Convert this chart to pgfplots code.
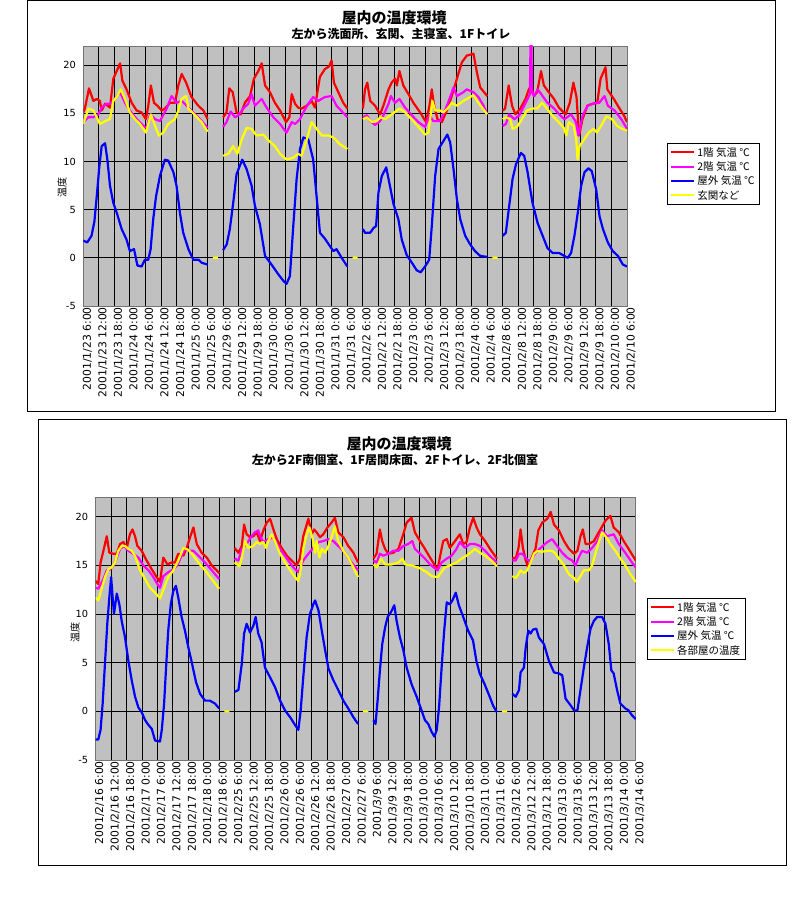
\documentclass[border=0pt]{standalone}
\usepackage{fontspec}
\setmainfont{Noto Sans CJK JP}
\newfontfamily\tickfont{DejaVu Sans}
\usepackage{pgfplots}
\pgfplotsset{compat=1.18}
\definecolor{plotbg}{RGB}{192,192,192}
\definecolor{xred}{RGB}{255,0,0}
\definecolor{xmag}{RGB}{255,0,255}
\definecolor{xblue}{RGB}{0,0,255}
\definecolor{xyel}{RGB}{255,255,0}
\pgfplotsset{
  tempaxis/.style={
    scale only axis,
    xmin=0, xmax=210, ymin=-5, ymax=22,
    xtick={0,6,...,210},
    ytick={-5,0,5,10,15,20},
    axis background/.style={fill=plotbg},
    grid=major,
    major grid style={black, line width=0.9pt},
    axis line style={draw=black!55, line width=0.9pt},
    major tick length=0pt,
    tick style={draw=none},
    xticklabel style={rotate=90, anchor=east, font=\tickfont\fontsize{10.8}{11}\selectfont, inner sep=1pt, yshift=-4pt},
    yticklabel style={font=\tickfont\fontsize{9.8}{10}\selectfont, xshift=-4pt},
    /pgf/number format/assume math mode=true,
    unbounded coords=jump,
    legend cell align=left,
    legend style={draw=black, line width=0.8pt, fill=white, font=\fontsize{10.5}{12}\selectfont, nodes={inner sep=2pt}, row sep=0pt},
    ylabel={温度},
    every axis plot/.append style={line width=2.2pt, line join=round},
  }
}
\begin{document}
\begin{tikzpicture}
\useasboundingbox (0pt,0pt) rectangle (800pt,900pt);
\draw[line width=1pt] (27.5pt,899.5pt) rectangle (775pt,488pt);
\draw[line width=1pt] (38.5pt,480pt) rectangle (786pt,34pt);
\node[font=\fontsize{15}{18}\selectfont\bfseries] at (394pt,882.5pt) {屋内の温度環境};
\node[font=\fontsize{12}{14}\selectfont\bfseries] at (401pt,866.5pt) {左から洗面所、玄関、主寝室、1Fトイレ};
\node[font=\fontsize{15}{18}\selectfont\bfseries] at (399pt,456.5pt) {屋内の温度環境};
\node[font=\fontsize{12}{14}\selectfont\bfseries] at (395pt,440.5pt) {左から2F南個室、1F居間床面、2Fトイレ、2F北個室};

\begin{axis}[tempaxis, at={(83.3pt,594pt)}, anchor=south west, width=543.7pt, height=260pt,
  ylabel style={at={(axis description cs:-0.039,0.454)}, anchor=center, font=\fontsize{10}{10}\selectfont},
  xticklabels={2001/1/23 6:00,2001/1/23 12:00,2001/1/23 18:00,2001/1/24 0:00,2001/1/24 6:00,2001/1/24 12:00,2001/1/24 18:00,2001/1/25 0:00,2001/1/25 6:00,
  2001/1/29 6:00,2001/1/29 12:00,2001/1/29 18:00,2001/1/30 0:00,2001/1/30 6:00,2001/1/30 12:00,2001/1/30 18:00,2001/1/31 0:00,2001/1/31 6:00,
  2001/2/2 6:00,2001/2/2 12:00,2001/2/2 18:00,2001/2/3 0:00,2001/2/3 6:00,2001/2/3 12:00,2001/2/3 18:00,2001/2/4 0:00,2001/2/4 6:00,
  2001/2/8 6:00,2001/2/8 12:00,2001/2/8 18:00,2001/2/9 0:00,2001/2/9 6:00,2001/2/9 12:00,2001/2/9 18:00,2001/2/10 0:00,2001/2/10 6:00},
  legend style={at={(1,0.508)}, anchor=west, xshift=40pt},
  legend image code/.code={\draw[#1, line width=2pt] (0pt,0pt) -- (23pt,0pt);},
]
\addplot[xred] coordinates {
(0,15.1)(0.6,15.5)(2.2,17.6)(3.9,16.3)(5.2,16.5)(6.4,16.3)(7.1,15.3)(8.4,16.0)(10.3,15.6)(11.6,18.6)(12.9,19.4)(14.2,20.2)(15.1,18.4)(16.7,17.5)(18.7,16.1)(20.6,15.3)(22.5,15.1)(24.2,14.4)(25.1,15.8)(26.1,17.9)(27.3,16.1)(28.6,15.8)(30.3,15.3)(31.5,15.5)(33.5,16.1)(35.4,16.1)(36.7,17.9)(38,19.1)(39.7,18.2)(41.8,16.7)(44.4,15.8)(46.4,15.3)(48,14.4)
(49,nan)
(54,14.6)(55.3,15.1)(56.4,17.6)(57.7,17.2)(59.2,15.1)(60.8,14.9)(62.4,16.1)(64.4,16.8)(65.9,18.6)(67.6,19.4)(68.9,20.2)(70.2,17.9)(72.1,17.2)(74,16.1)(76,15.3)(78.3,14.1)(79.6,14.6)(80.5,17.0)(81.8,16.0)(83,15.6)(84.3,15.5)(86.3,15.8)(88.2,16.3)(89.5,15.6)(90.4,17.2)(91.4,18.8)(93.3,19.6)(95,19.9)(95.9,20.5)(96.8,18.2)(98.5,17.2)(100.4,16.1)(102,15.5)
(103,nan)
(108,15.5)(108.8,17.5)(109.7,18.2)(110.8,16.3)(112.7,15.8)(114.6,14.9)(115.9,15.8)(117.9,17.5)(119.1,18.2)(120.4,18.6)(121.1,17.9)(122.1,19.4)(123.6,17.9)(125.6,17.0)(127.5,16.1)(130.1,15.1)(132.4,14.1)(133.7,15.8)(134.6,17.5)(135.5,15.8)(136.8,14.4)(138.5,14.1)(140.4,15.3)(142.3,16.8)(144.3,18.6)(146.2,20.3)(148.1,21.0)(150.7,21.2)(152,19.3)(153.3,17.7)(156,16.8)
(157,nan)
(162,15.3)(162.9,15.5)(164.3,17.9)(165.6,15.8)(166.9,14.9)(168.8,15.5)(170.8,16.5)(172.1,17.5)(173,17.9)(174,16.8)(175.3,17.2)(176.8,19.4)(177.9,17.9)(179.8,17.2)(181.8,16.5)(183.7,15.6)(186.3,14.9)(187.9,16.1)(189.3,18.2)(190.5,16.7)(191.5,12.7)(192.8,14.4)(194.7,15.8)(196.6,16.0)(198.5,16.1)(199.8,18.6)(201.7,19.8)(202.4,17.5)(204.9,16.5)(206.9,15.6)(208.8,14.8)(210,14.1)
};
\addlegendentry{1階 気温 ℃}
\addplot[xmag] coordinates {
(0,14.1)(2,14.6)(3.9,14.6)(5.8,14.9)(7.1,15.6)(9,16.0)(10.3,16.0)(11.6,16.3)(14.2,17.2)(16.1,16.1)(18,15.3)(20.6,14.4)(23.2,13.7)(24.5,13.5)(25.8,14.9)(27.7,14.4)(29.6,14.2)(32.2,15.5)(34.1,16.8)(36,16.1)(38,16.3)(39.9,15.8)(42.5,15.1)(45.1,14.4)(48,13.5)
(49,nan)
(54,13.6)(55.3,14.1)(56.9,15.2)(58.6,14.6)(59.9,14.8)(61.8,15.5)(63.7,16.0)(65,17.0)(66.3,15.8)(68.9,16.5)(70.8,15.6)(73.4,14.6)(76,13.9)(78.5,13.0)(80.5,14.1)(81.8,13.9)(83.7,14.4)(85,15.1)(86.9,16.0)(88.8,16.7)(90.8,16.3)(93.3,16.7)(95.9,16.8)(97.8,15.8)(102,14.6)
(103,nan)
(108,14.6)(109.6,14.8)(110.8,14.2)(112.7,13.8)(114.6,14.2)(115.9,14.8)(117.9,16.0)(118.8,16.8)(120.4,16.1)(122.1,16.5)(124.3,15.6)(126.9,14.8)(129.4,14.1)(132,13.6)(133.7,14.8)(135.2,14.2)(137.8,14.2)(139.7,15.3)(141.7,16.7)(143,17.7)(144.3,16.8)(146.8,17.2)(148.1,17.5)(150.7,17.2)(152.6,16.7)(154.6,15.8)(156,14.9)
(157,nan)
(162,13.7)(163.2,13.9)(164.5,14.9)(166.5,14.4)(168.4,14.8)(170.3,15.8)(171.6,16.5)(172.5,17.0)(172.9,26)(173.3,17.2)(174.2,16.8)(175.5,17.5)(177.4,16.8)(179.3,16.1)(181.9,15.5)(183.8,14.9)(185.8,14.4)(188.4,14.9)(190.3,14.1)(191.2,12.7)(192.9,14.8)(194.8,15.8)(196.8,16.0)(199.3,16.1)(201.3,16.8)(202.6,15.8)(205.2,15.3)(207.8,14.4)(210,13.4)
};
\addlegendentry{2階 気温 ℃}
\addplot[xblue] coordinates {
(0,1.8)(1.5,1.6)(3.2,2.3)(4.3,3.8)(5.2,6.4)(6.2,9.5)(7.1,11.6)(8.4,11.9)(9.3,10.2)(10.3,7.5)(11.6,5.7)(12.9,4.7)(14.8,3.0)(16.7,1.9)(18,0.7)(19.6,0.9)(20.9,-0.8)(22.5,-0.9)(23.8,-0.2)(25.1,-0.2)(26,0.9)(27,4.0)(28.1,6.4)(29.6,8.5)(31.5,10.2)(32.8,10.1)(34.8,8.9)(36,7.5)(37.3,4.7)(38.6,2.6)(40.6,0.9)(42.5,-0.2)(44.5,-0.2)(45.7,-0.5)(48,-0.7)
(49,nan)
(54,0.8)(55.4,1.4)(56.6,3.0)(57.9,5.7)(59.2,8.7)(61.4,10.2)(63.1,9.2)(65,7.5)(66.3,5.4)(68.2,3.5)(70.2,0.2)(72.7,-0.7)(75.3,-1.7)(77.3,-2.4)(78.5,-2.7)(79.8,-1.9)(81.1,3.3)(82.4,8.2)(83.7,11.3)(85,12.5)(86.9,12.3)(88.8,10.2)(90.1,6.4)(91.4,2.6)(93.3,2.0)(95.3,1.2)(96.6,0.7)(97.8,0.9)(99.8,0)(102,-0.9)
(103,nan)
(108,3.0)(108.8,2.6)(110.8,2.6)(112.1,3.1)(113.1,3.3)(114,6.8)(115.3,8.5)(117,9.4)(117.9,8.2)(119.8,5.6)(121.7,4.0)(123,1.9)(124.9,0.3)(126.9,-0.5)(128.8,-1.3)(130.3,-1.5)(132,-0.9)(133.6,-0.2)(134.6,3.3)(135.9,8.5)(137.2,11.3)(138.8,12.0)(140.6,12.8)(141.7,12.0)(143,9.2)(144.3,6.1)(145.6,4.0)(147.5,2.3)(149.4,1.4)(151.3,0.7)(153.3,0.2)(156,0.1)
(157,nan)
(162,2.3)(163.2,2.6)(164.5,5.4)(165.8,8.2)(167.1,9.7)(169,10.9)(170.3,10.6)(171.6,8.9)(173.5,5.7)(175.5,3.6)(177.4,2.3)(179.3,1.0)(181.3,0.5)(183.8,0.5)(185.8,0.2)(187.1,0)(188.4,0.5)(189.7,2.3)(191,4.7)(192.3,7.5)(193.6,8.9)(195.1,9.3)(196.4,9.0)(198.1,7.1)(199.4,4.3)(200.7,3.0)(202.6,1.6)(204.5,0.7)(206.5,0.2)(208.4,-0.7)(210,-0.9)
};
\addlegendentry{屋外 気温 ℃}
\addplot[xyel] coordinates {
(0,13.9)(2,15.5)(3.9,15.3)(5.2,14.6)(6.4,13.9)(8.4,14.2)(10.3,14.4)(11.6,16.3)(12.9,16.7)(14.5,17.5)(16.1,16.5)(18,15.1)(20,14.4)(21.9,13.9)(24.2,13.0)(25.1,13.9)(26.1,14.9)(27.7,13.7)(29.2,12.7)(30.9,13.0)(32.8,13.9)(35.4,14.4)(36.7,15.3)(38,16.5)(39.7,16.8)(40.6,15.5)(43.2,14.8)(45.7,14.1)(48,13.1)
(49,nan)(50,0)(52,0)(53,nan)
(54,10.6)(56,10.8)(57.9,11.6)(59.5,10.8)(61.2,12.3)(63.1,13.5)(65,13.4)(66.9,12.7)(69.5,12.8)(71.5,12.2)(74,11.6)(76,10.8)(78.5,10.2)(81.1,10.4)(83,10.8)(84.3,10.6)(86.3,12.3)(88.2,14.1)(90.1,13.4)(92.1,12.7)(94.6,12.7)(96.6,12.5)(99.1,11.8)(102,11.3)
(103,nan)(104,0)(106,0)(107,nan)
(108,14.4)(109.5,14.6)(111.4,14.1)(113.3,14.2)(114.8,14.6)(116.6,14.4)(119.1,14.9)(122.1,15.5)(124.3,15.1)(127.5,14.2)(130.1,13.4)(132,12.8)(133.3,13.0)(134.3,15.1)(134.8,16.3)(135.9,15.3)(137.8,15.3)(139.1,15.1)(141,15.6)(142.3,16.1)(144.3,15.8)(146.8,16.3)(149.4,16.7)(150.7,16.9)(152.6,16.1)(156,14.9)
(157,nan)(158,0)(160,0)(161,nan)
(162,14.4)(163.2,14.6)(164.9,14.4)(165.8,13.4)(167.5,13.6)(169.4,14.4)(171.4,15.3)(173.3,15.5)(175.3,15.5)(177.2,16.1)(179.1,15.5)(181.1,14.8)(183.6,14.1)(185.6,13.5)(186.6,12.7)(187.5,14.1)(189.4,13.7)(190.4,12.3)(190.9,10.2)(191.7,11.6)(193.2,12.2)(195.2,13.0)(197.1,13.4)(198.4,13.0)(200.4,13.9)(202,14.7)(204.2,14.4)(206.2,13.7)(208.1,13.4)(210,13.2)
};
\addlegendentry{玄関など}
\end{axis}

\begin{axis}[tempaxis, at={(95.7pt,140pt)}, anchor=south west, width=540.1pt, height=262.7pt,
  ylabel style={at={(axis description cs:-0.038,0.487)}, anchor=center, font=\fontsize{10}{10}\selectfont},
  xticklabels={2001/2/16 6:00,2001/2/16 12:00,2001/2/16 18:00,2001/2/17 0:00,2001/2/17 6:00,2001/2/17 12:00,2001/2/17 18:00,2001/2/18 0:00,2001/2/18 6:00,
  2001/2/25 6:00,2001/2/25 12:00,2001/2/25 18:00,2001/2/26 0:00,2001/2/26 6:00,2001/2/26 12:00,2001/2/26 18:00,2001/2/27 0:00,2001/2/27 6:00,
  2001/3/9 6:00,2001/3/9 12:00,2001/3/9 18:00,2001/3/10 0:00,2001/3/10 6:00,2001/3/10 12:00,2001/3/10 18:00,2001/3/11 0:00,2001/3/11 6:00,
  2001/3/12 6:00,2001/3/12 12:00,2001/3/12 18:00,2001/3/13 0:00,2001/3/13 6:00,2001/3/13 12:00,2001/3/13 18:00,2001/3/14 0:00,2001/3/14 6:00},
  legend style={at={(1,0.499)}, anchor=west, xshift=11pt},
  legend image code/.code={\draw[#1, line width=2pt] (0pt,0pt) -- (23pt,0pt);},
]
\addplot[xred] coordinates {
(0,13.4)(1,13.1)(1.9,15.3)(3,16.5)(4.3,18.0)(5.3,16.3)(6.9,16.2)(8.2,16.2)(9.5,17.2)(10.8,17.4)(12.1,16.8)(13.3,18.2)(14.3,18.7)(15.3,18.0)(16.2,17.0)(17.9,16.5)(19.8,15.5)(21.8,14.6)(23.7,13.8)(25,13.3)(26.3,15.8)(27.9,15.1)(29.5,15.3)(30.8,15.3)(32.1,16.2)(34.1,16.0)(35.4,16.8)(36.7,17.9)(38,18.9)(39.3,17.2)(41.2,16.3)(43.2,15.8)(45.1,15.0)(47,14.5)(48,14.2)
(49,nan)
(54,16.8)(55.5,16.3)(56.8,17.0)(57.7,19.2)(58.7,18.2)(60,17.9)(61.3,18.0)(62.6,18.4)(63.9,17.5)(65.2,18.6)(66.5,19.4)(67.8,19.8)(69.1,18.7)(70.4,17.7)(72.3,16.8)(74.3,16.0)(76.2,15.5)(78.1,15.0)(79.4,15.7)(80.7,18.0)(82.7,19.8)(84,18.2)(84.9,18.7)(85.9,18.4)(87.2,17.9)(88.5,18.2)(90.1,18.9)(91.7,19.4)(93,19.9)(94.3,18.4)(96.3,17.9)(98.2,17.0)(100.2,16.3)(102,15.3)
(103,nan)
(108,15.7)(109.2,16.2)(110.5,18.7)(111.4,17.5)(112.5,16.7)(113.8,16.2)(115.7,16.3)(117.7,16.7)(119.6,18.2)(120.9,19.4)(122.8,19.9)(124.1,18.4)(126.1,17.5)(128,16.7)(130,15.8)(131.9,15.0)(132.9,14.5)(133.8,15.8)(135.1,17.5)(136.5,17.7)(137.7,16.8)(139.7,17.5)(141.6,18.2)(142.9,17.2)(144.2,17.4)(145.5,18.9)(146.8,19.9)(148.1,18.9)(149.4,18.2)(151.4,17.5)(153.3,16.7)(155.2,16.0)(156,15.7)
(157,nan)
(162,15.8)(163.3,15.7)(164.4,16.8)(165.2,18.7)(166.1,16.8)(167.2,15.5)(168.2,14.8)(169.5,15.8)(171,16.7)(172.1,18.6)(173.6,19.4)(175.6,19.8)(176.9,20.5)(178.2,19.2)(180.1,18.6)(182.1,17.5)(184,16.7)(186,16.2)(187.3,16.5)(188.5,18.0)(189.4,18.7)(190.5,17.2)(191.8,17.2)(193.7,17.5)(195.6,18.4)(198.2,19.6)(200.1,20.1)(201.4,18.9)(203.4,18.4)(205.3,17.5)(207.2,16.7)(210,15.5)
};
\addlegendentry{1階 気温 ℃}
\addplot[xmag] coordinates {
(0,12.7)(1,12.6)(3,13.6)(4.3,14.5)(5.6,14.6)(6.9,15.0)(8.2,15.8)(9.5,16.7)(11,17.0)(12.7,16.5)(14.6,16.2)(16.6,15.8)(18.5,15.0)(20.5,14.5)(22.4,13.8)(24.4,12.9)(25,12.7)(26.3,13.9)(28.2,14.3)(30.2,14.6)(31.7,15.0)(33.4,16.0)(34.7,16.7)(36.7,16.5)(38,16.5)(39.9,16.0)(42.5,15.3)(45.1,14.5)(48,13.6)
(49,nan)
(54,15.7)(55.5,15.5)(56.8,16.7)(58.7,17.2)(60.6,18.0)(61.9,18.4)(63.2,18.6)(64.1,17.9)(65.2,17.4)(67.1,17.7)(69.1,17.9)(71,17.0)(73,16.2)(74.9,15.5)(76.8,14.8)(78.8,14.3)(80.7,15.5)(82.7,16.2)(84.6,16.8)(86.6,17.4)(88.5,17.5)(90.5,17.7)(92.4,17.5)(94.3,17.0)(96.3,16.5)(98.9,15.5)(102,14.5)
(103,nan)
(108,15.5)(109.3,15.3)(110.5,16.2)(111.8,16.0)(113.8,16.2)(115.7,16.5)(117.7,16.5)(119.6,17.0)(121.5,17.2)(123.1,17.5)(124.1,16.7)(126.1,16.2)(128,15.7)(130,15.1)(131.9,14.7)(132.9,14.5)(134.5,15.3)(136.5,15.7)(138.4,16.0)(140.3,16.7)(141.6,17.4)(143.6,16.8)(145.5,17.2)(147.4,17.2)(149.4,17.0)(151.4,16.5)(153.9,15.8)(156,15.3)
(157,nan)
(162,15.5)(163.3,15.5)(164.6,16.2)(165.9,16.2)(167.2,15.8)(168.5,15.4)(169.8,15.8)(171,16.3)(173,16.8)(175.6,17.4)(177.5,17.7)(179.4,17.0)(181.4,16.3)(183.3,15.8)(185.3,15.5)(186.5,15.0)(187.8,15.8)(189.1,16.5)(191.1,16.3)(193,16.8)(195,17.5)(196.9,18.6)(198.8,18.0)(201.4,18.2)(203.4,17.2)(205.9,16.3)(208.5,15.3)(210,14.8)
};
\addlegendentry{2階 気温 ℃}
\addplot[xblue] coordinates {
(0,-2.9)(1,-2.9)(1.9,-1.9)(2.7,0.8)(3.6,4.9)(4.5,9.0)(5.3,11.7)(6,13.8)(6.6,11.7)(7.1,10.0)(8.2,12.1)(9.2,11.0)(10.1,9.3)(11.4,7.6)(12.7,5.2)(14,3.2)(15.3,1.5)(16.6,0.4)(17.9,-0.1)(19.2,-0.9)(20.5,-1.4)(21.8,-1.8)(23.1,-3.0)(25,-3.1)(25.7,-1.9)(26.6,0.8)(27.3,4.2)(28.2,8.3)(29.2,11.0)(30.2,12.4)(31.2,12.9)(32.1,11.7)(33.4,9.7)(34.7,8.3)(36,6.6)(37.3,5.1)(39,3.0)(40.6,1.8)(42.5,1.1)(44.4,1.1)(46.4,0.8)(48,0.3)
(49,nan)
(54,2.0)(55.5,2.2)(56.8,4.9)(57.7,8.0)(58.7,9.0)(60,8.1)(61.3,8.8)(62.2,9.7)(63.2,8.0)(64.5,7.1)(65.8,4.5)(67.8,3.5)(69.7,2.5)(71.7,1.1)(73.6,0.1)(75.6,-0.6)(77.5,-1.4)(78.8,-1.9)(79.7,0.1)(80.7,3.5)(82,7.6)(83.3,10.0)(84.6,11.0)(85.3,11.4)(86.6,10.4)(87.9,8.3)(89.2,6.3)(90.5,4.4)(92.4,3.2)(94.3,2.2)(96.3,1.1)(98.2,0.3)(100.2,-0.6)(102,-1.3)
(103,nan)
(108,-0.9)(108.8,-1.3)(109.6,1.1)(110.5,4.2)(111.4,6.9)(112.5,8.6)(113.5,9.7)(114.8,10.2)(116.1,10.9)(117,9.3)(118.3,7.6)(119.6,6.3)(120.9,4.5)(122.8,2.8)(124.8,1.5)(126.7,0.1)(128,-0.9)(129.3,-1.3)(130.6,-2.1)(131.7,-2.6)(132.6,-1.9)(133.5,0.4)(134.5,4.5)(135.5,8.3)(136.5,11.2)(137.7,11.0)(138.7,11.4)(140,12.2)(141.2,10.9)(142.9,9.7)(144.8,8.3)(146.7,7.3)(148,5.2)(149.3,3.9)(151.2,2.8)(153.2,1.5)(154.5,0.6)(156,-0.1)
(157,nan)
(162,1.8)(163.3,1.5)(164.6,2.2)(165.2,4.0)(166.5,4.5)(167.2,6.6)(168.2,8.3)(169.1,8.0)(170,8.4)(171.3,8.5)(172.3,7.6)(174.3,6.9)(176.2,5.2)(178.2,4.0)(180.1,3.9)(181.4,3.7)(182.7,1.3)(184.7,0.6)(186,0.1)(187.3,0.1)(188.5,2.2)(189.8,4.5)(191.1,6.6)(192.4,8.5)(193.7,9.3)(195,9.7)(196.9,9.7)(198.2,9.0)(199.5,6.9)(200.5,4.2)(201.4,3.9)(202.7,2.2)(204,0.8)(205.9,0.3)(207.2,0.1)(208.5,-0.4)(210,-0.8)
};
\addlegendentry{屋外 気温 ℃}
\addplot[xyel] coordinates {
(0,11.7)(1,11.4)(2.3,12.6)(3.6,13.8)(4.9,14.6)(6.2,14.8)(7.5,15.3)(8.8,16.5)(10.1,17.0)(11.4,17.0)(12.7,16.7)(14,16.5)(15.3,16.0)(17.2,14.5)(19.2,13.6)(21.1,12.7)(23.1,12.2)(25,11.6)(26.6,12.7)(28.2,13.8)(30.2,14.5)(32.1,15.5)(34.1,16.8)(36,16.6)(38,16.0)(39.9,15.3)(42.5,14.5)(45.1,13.6)(48,12.6)
(49,nan)(50,0)(52,0)(53,nan)
(54,15.3)(55.9,14.9)(56.8,15.8)(58.1,17.5)(59.3,16.8)(61.3,17.0)(62.6,17.4)(63.9,17.2)(65.2,17.4)(66.2,16.8)(67.1,17.5)(68.4,18.2)(69.7,17.5)(71.7,16.2)(73.6,15.3)(75.6,14.5)(77.5,13.8)(78.8,13.4)(79.7,14.6)(80.7,16.7)(82,18.2)(83.1,18.9)(84.4,17.7)(85.3,16.3)(85.9,17.5)(87,15.8)(87.9,16.7)(89.2,16.3)(90.5,17.0)(91.7,17.9)(93,19.0)(94.3,17.5)(96.3,16.5)(98.2,15.8)(100.2,14.8)(102,13.8)
(103,nan)(104,0)(106,0)(107,nan)
(108,15.1)(109.3,14.8)(110.9,15.7)(112.5,15.1)(115.1,15.1)(117.7,15.3)(119.3,15.7)(120.3,15.1)(122.8,15.0)(126.1,14.7)(128.7,14.3)(130.6,13.9)(133,13.8)(133.8,14.1)(135.8,14.8)(137.7,15.0)(140.3,15.3)(142.3,15.7)(144.2,16.0)(146.2,16.4)(147.4,16.7)(149.4,16.3)(151.4,16.0)(153.9,15.5)(156,14.9)
(157,nan)(158,0)(160,0)(161,nan)
(162,13.9)(163.3,13.7)(164.4,14.1)(165.2,14.5)(166.5,14.2)(167.8,14.5)(169.1,15.3)(170.4,16.2)(171.7,16.5)(173.6,16.4)(175.6,16.5)(177.5,16.5)(178.8,16.2)(180.1,15.7)(182.1,15.0)(184,14.1)(186,13.7)(187,13.3)(188.5,13.9)(189.8,14.5)(191.8,14.5)(193,15.0)(194.3,16.2)(195.6,17.4)(196.9,18.4)(198.5,17.9)(200.1,17.2)(202.1,16.5)(204,15.7)(205.9,15.0)(207.9,14.1)(210,13.3)
};
\addlegendentry{各部屋の温度}
\end{axis}
\end{tikzpicture}
\end{document}
